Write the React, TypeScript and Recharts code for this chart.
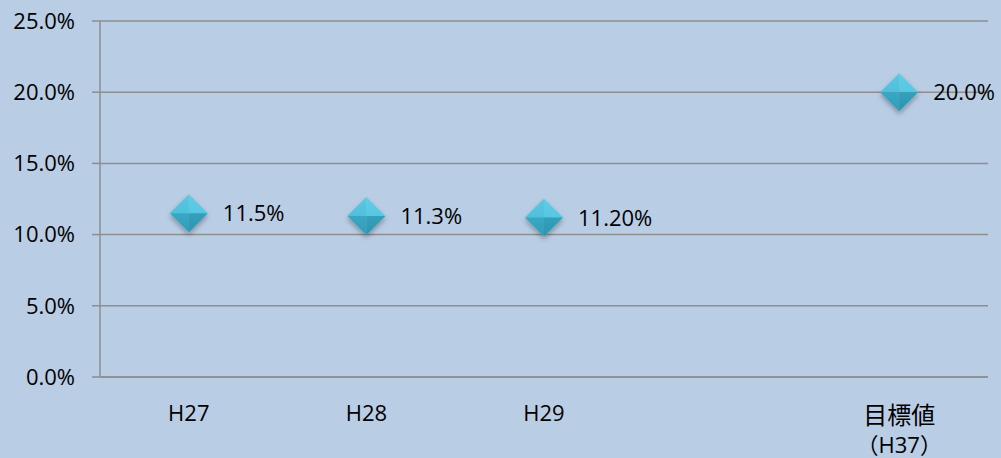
import React from 'react';
import { LineChart, Line, XAxis, YAxis, CartesianGrid, LabelList } from 'recharts';

const categories = ['H27', 'H28', 'H29', '', '目標値|（H37）'];
const rates = [11.5, 11.3, 11.2, null, 20.0];
const rateLabels = ['11.5%', '11.3%', '11.20%', '', '20.0%'];
const yTicks = [0, 5, 10, 15, 20, 25];

const data = categories.map((c, i) => ({ cat: c, rate: rates[i], label: rateLabels[i] }));

const FONT = '"Open Sans", "Noto Sans CJK JP", sans-serif';
const GRID = '#8e8e8e';

function Diamond(props: any) {
    const { cx, cy, value } = props;
    if (value == null || cx == null || cy == null) return null;
    const r = 19;
    return (
        <g filter="url(#dshadow)">
            <polygon points={`${cx},${cy - r} ${cx - r},${cy} ${cx},${cy}`} fill="#47bedb" />
            <polygon points={`${cx},${cy - r} ${cx + r},${cy} ${cx},${cy}`} fill="#4fc5e1" />
            <polygon points={`${cx - r},${cy} ${cx},${cy + r} ${cx},${cy}`} fill="#31a4c1" />
            <polygon points={`${cx + r},${cy} ${cx},${cy + r} ${cx},${cy}`} fill="#2c9cb9" />
            <polygon points={`${cx},${cy - r} ${cx + r},${cy} ${cx},${cy + r} ${cx - r},${cy}`}
                fill="url(#dshine)" />
        </g>
    );
}

function XTick(props: any) {
    const { x, y, payload } = props;
    const lines = String(payload.value).split('|');
    const two = lines.length > 1;
    return (
        <g>
            {lines.map((t, i) => (
                <text key={i} x={x} y={y + (two ? 39 + i * 29 : 36)} textAnchor="middle"
                    fontFamily={FONT} fontSize={two && i === 0 ? 24 : 22} fill="#000">
                    {t}
                </text>
            ))}
        </g>
    );
}

function PointLabel(props: any) {
    const { x, y, width, value } = props;
    if (!value) return null;
    return (
        <text x={x + (width || 0) / 2 + 34} y={y} dy={8} fontFamily={FONT} fontSize={22} fill="#000">
            {value}
        </text>
    );
}

export default function App() {
    return (
        <div style={{ position: 'fixed', left: 0, top: 0, width: 1001, height: 458, background: '#b9cde5' }}>
            <LineChart width={1001} height={458} data={data}
                margin={{ top: 21, right: 13, left: 0, bottom: 0 }}>
                <defs>
                    <linearGradient id="dshine" x1="0" y1="0" x2="0" y2="1">
                        <stop offset="0%" stopColor="#ffffff" stopOpacity={0.12} />
                        <stop offset="50%" stopColor="#ffffff" stopOpacity={0.04} />
                        <stop offset="100%" stopColor="#000000" stopOpacity={0.04} />
                    </linearGradient>
                    <filter id="dshadow" x="-50%" y="-50%" width="200%" height="200%">
                        <feDropShadow dx="0" dy="3" stdDeviation="2.5" floodColor="#000" floodOpacity={0.3} />
                    </filter>
                </defs>
                <CartesianGrid vertical={false} stroke={GRID} strokeWidth={1.5} />
                <XAxis dataKey="cat" height={81} axisLine={{ stroke: GRID, strokeWidth: 1.5 }}
                    tickLine={false} tick={<XTick />} interval={0}
                    padding={{ left: 88.8, right: 88.8 }} />
                <YAxis type="number" domain={[0, 25]} ticks={yTicks} width={100}
                    axisLine={{ stroke: GRID, strokeWidth: 1.5 }}
                    tickLine={{ stroke: GRID, strokeWidth: 1.5 }} tickSize={8} tickMargin={17}
                    tick={{ fontFamily: FONT, fontSize: 22, fill: '#000' }}
                    tickFormatter={(v: number) => `${v.toFixed(1)}%`} />
                <Line dataKey="rate" stroke="none" isAnimationActive={false}
                    dot={<Diamond />} activeDot={false} connectNulls={false}>
                    <LabelList dataKey="label" content={<PointLabel />} />
                </Line>
            </LineChart>
        </div>
    );
}
